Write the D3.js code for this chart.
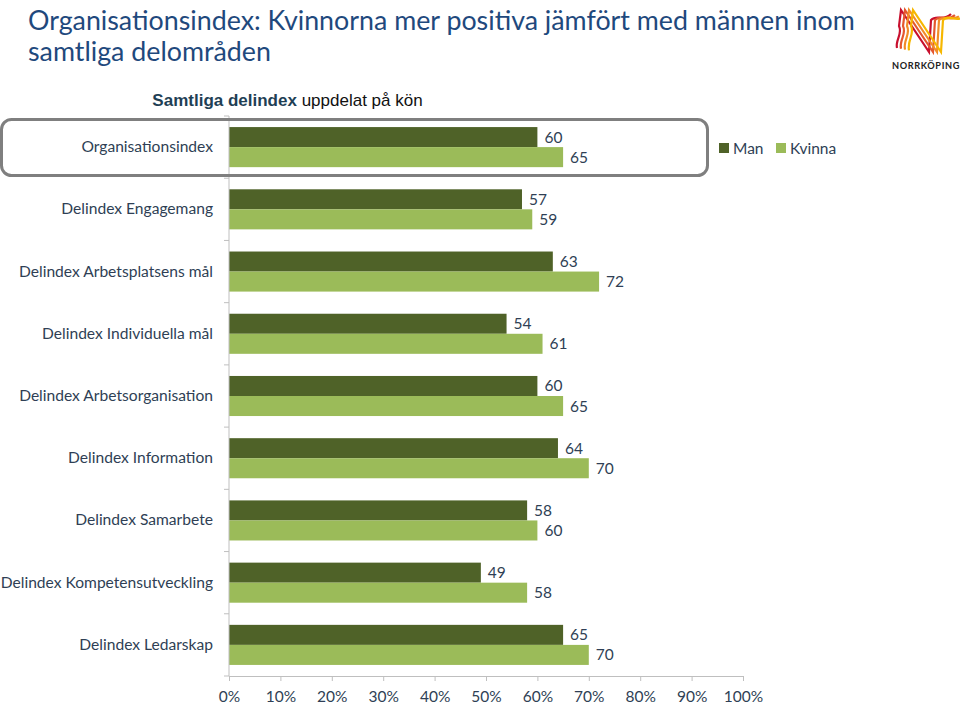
<!DOCTYPE html>
<html>
<head>
<meta charset="utf-8">
<script src="https://cdn.jsdelivr.net/npm/d3@7"></script>
<style>
  body { margin: 0; background: #fff; }
  svg { display: block; }
</style>
</head>
<body>
<svg id="chart" width="960" height="708"></svg>
<script>
const categories = [
  "Organisationsindex",
  "Delindex Engagemang",
  "Delindex Arbetsplatsens mål",
  "Delindex Individuella mål",
  "Delindex Arbetsorganisation",
  "Delindex Information",
  "Delindex Samarbete",
  "Delindex Kompetensutveckling",
  "Delindex Ledarskap"
];
const seriesNames = ["Man", "Kvinna"];
const manValues    = [60, 57, 63, 54, 60, 64, 58, 49, 65];
const kvinnaValues = [65, 59, 72, 61, 65, 70, 60, 58, 70];
const xTicks = [0, 10, 20, 30, 40, 50, 60, 70, 80, 90, 100];
const colors = ["#4F6228", "#9BBB59"];

const svg = d3.select("#chart");
const FONT = "Lato, 'Open Sans', sans-serif";
const textColor = "#2f3f55";

// Title
const title = svg.append("text").attr("x", 28).attr("font-family", FONT)
  .attr("font-size", 26.8).attr("fill", "#1F497D");
title.append("tspan").attr("x", 28).attr("y", 30).text("Organisationsindex: Kvinnorna mer positiva jämfört med männen inom");
title.append("tspan").attr("x", 28).attr("y", 61).text("samtliga delområden");

// Subtitle
const sub = svg.append("text").attr("x", 287.5).attr("y", 106).attr("text-anchor", "middle")
  .attr("font-family", "Arial, 'Liberation Sans', sans-serif").attr("font-size", 17);
sub.append("tspan").attr("font-weight", "bold").attr("fill", "#1F3F55").text("Samtliga delindex");
sub.append("tspan").attr("fill", "#111").text(" uppdelat på kön");

// Logo
const logo = svg.append("g").attr("transform", "translate(893,4)").attr("fill", "none").attr("stroke-width", 2.2);
const logoCols = ["#C8102E", "#E4572E", "#F28C28", "#F6B700"];
logoCols.forEach((c, i) => {
  const o = i * 4;
  logo.append("path").attr("stroke", c)
    .attr("d", `M${4+o},${44+o*0.2} C${2+o},36 ${10+o},30 ${6+o},22 L${8+o},6 L${36+o},${48} L${38+o},16 C${44+o},10 ${50+o},18 ${58+o},${10+o*0.3}`);
});
svg.append("text").attr("x", 926).attr("y", 69).attr("text-anchor", "middle")
  .attr("font-family", FONT).attr("font-weight", "bold").attr("font-size", 9.2)
  .attr("letter-spacing", 0.6).attr("fill", "#222").text("NORRKÖPING");

// Scales
const x = d3.scaleLinear().domain([0, 100]).range([229, 743]);
const y = d3.scaleBand().domain(categories).range([116, 676]).padding(0);
const barH = y.bandwidth() * 0.322;
const axisColor = "#BFBFBF";

// Bars
const data = categories.map((c, i) => ({ cat: c, vals: [manValues[i], kvinnaValues[i]] }));
const groups = svg.append("g").selectAll("g").data(data).join("g");
[0, 1].forEach(s => {
  groups.append("rect")
    .attr("x", x(0))
    .attr("y", d => y(d.cat) + y.bandwidth() / 2 - barH + s * barH)
    .attr("width", d => x(d.vals[s]) - x(0))
    .attr("height", barH)
    .attr("fill", colors[s]);
  groups.append("text")
    .attr("x", d => x(d.vals[s]) + 7)
    .attr("y", d => y(d.cat) + y.bandwidth() / 2 - barH + s * barH + barH / 2 + 5.5)
    .attr("font-family", FONT).attr("font-size", 15.5).attr("fill", textColor)
    .text(d => d.vals[s]);
});

// Y axis
const yAxisG = svg.append("g");
yAxisG.append("line").attr("x1", x(0)).attr("x2", x(0)).attr("y1", 116).attr("y2", 676)
  .attr("stroke", axisColor).attr("stroke-width", 1);
const bounds = categories.map(c => y(c)).concat([676]);
yAxisG.selectAll("line.t").data(bounds).join("line").attr("class", "t")
  .attr("x1", x(0) - 5).attr("x2", x(0)).attr("y1", d => d).attr("y2", d => d)
  .attr("stroke", axisColor);
yAxisG.selectAll("text").data(categories).join("text")
  .attr("x", 213).attr("y", d => y(d) + y.bandwidth() / 2 + 5)
  .attr("text-anchor", "end").attr("font-family", FONT).attr("font-size", 15.6)
  .attr("fill", textColor).text(d => d);

// X axis
const xAxis = d3.axisBottom(x).tickValues(xTicks).tickFormat(d => d + "%").tickSizeOuter(0).tickSize(5).tickPadding(10);
const xg = svg.append("g").attr("transform", "translate(0,676)").call(xAxis);
xg.select(".domain").attr("stroke", axisColor);
xg.selectAll(".tick line").attr("stroke", axisColor);
xg.selectAll(".tick text").attr("font-family", FONT).attr("font-size", 15.5).attr("fill", textColor);

// Legend
const legend = svg.append("g");
const legX = [719, 776];
seriesNames.forEach((n, i) => {
  legend.append("rect").attr("x", legX[i]).attr("y", 143).attr("width", 10).attr("height", 10).attr("fill", colors[i]);
  legend.append("text").attr("x", legX[i] + 14).attr("y", 153.5).attr("font-family", FONT)
    .attr("font-size", 15.5).attr("fill", textColor).text(n);
});

// Highlight box
svg.append("rect").attr("x", 1.5).attr("y", 119.5).attr("width", 706).attr("height", 56)
  .attr("rx", 10).attr("ry", 10).attr("fill", "none").attr("stroke", "#7F7F7F").attr("stroke-width", 3);
</script>
</body>
</html>
